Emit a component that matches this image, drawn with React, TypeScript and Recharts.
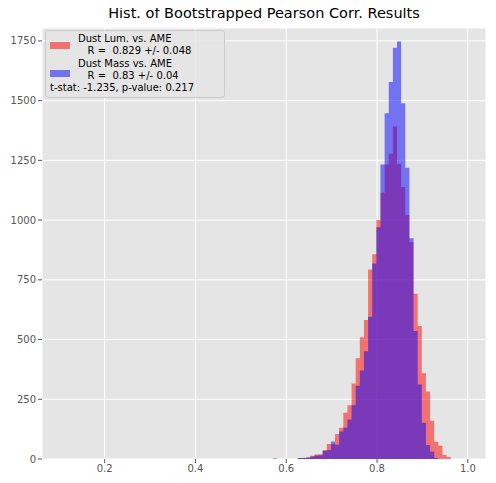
import { ComposedChart, Area, XAxis, YAxis, CartesianGrid } from 'recharts'

const BIN_W = 0.0091
const FIRST_EDGE = 0.6256

// counts per bin, from the first edge
const lumCounts = [4, 4, 8, 14, 19, 20, 38, 63, 63, 105, 131, 194, 225, 316, 422, 510, 582, 793, 857,
  1000, 1114, 1233, 1278, 1392, 1236, 1139, 1021, 907, 692, 557, 359, 283, 160, 72, 55, 17, 8]
const massCounts = [4, 4, 4, 10, 15, 16, 34, 38, 73, 60, 115, 131, 165, 225, 307, 370, 451, 595, 818,
  970, 1233, 1447, 1578, 1721, 1747, 1489, 1219, 924, 536, 312, 152, 59, 30, 4, 0, 0, 0]

const xTicks = [0.2, 0.4, 0.6, 0.8, 1.0]
const yTicks = [0, 250, 500, 750, 1000, 1250, 1500, 1750]

const data = [
  { x: 0.5705, lum: 3, mass: 0 },
  { x: 0.5796, lum: 0, mass: 0 },
  ...lumCounts.map((v, i) => ({ x: FIRST_EDGE + i * BIN_W, lum: v, mass: massCounts[i] })),
  { x: FIRST_EDGE + lumCounts.length * BIN_W, lum: 0, mass: 0 },
]

export default function App() {
  return (
    <div style={{ position: 'relative', width: 496, height: 483, margin: -8, background: '#fff', fontFamily: 'DejaVu Sans' }}>
      <div style={{ position: 'absolute', top: 5, left: 42, width: 444, textAlign: 'center', fontSize: 14.5 }}>
        Hist. of Bootstrapped Pearson Corr. Results
      </div>
      <ComposedChart width={496} height={483} data={data} margin={{ top: 28, right: 10, left: 0, bottom: 0 }}>
        <CartesianGrid fill="#e5e5e5" stroke="#fff" strokeWidth={1} />
        <XAxis dataKey="x" type="number" domain={[0.062, 1.04]} ticks={xTicks} height={24}
          tickFormatter={(v: number) => v.toFixed(1)} tick={{ fontSize: 10, fill: '#555' }}
          axisLine={false} tickLine={{ stroke: '#555' }} tickSize={4} allowDataOverflow />
        <YAxis type="number" domain={[0, 1804]} ticks={yTicks} width={42}
          tick={{ fontSize: 10, fill: '#555' }} axisLine={false} tickLine={{ stroke: '#555' }} tickSize={4} />
        <Area dataKey="lum" type="stepAfter" stroke="none" fill="#ff0000" fillOpacity={0.5} isAnimationActive={false} />
        <Area dataKey="mass" type="stepAfter" stroke="none" fill="#0000ff" fillOpacity={0.5} isAnimationActive={false} />
      </ComposedChart>
      <div style={{ position: 'absolute', left: 45, top: 30, width: 178, height: 66, background: 'rgba(229,229,229,0.8)',
        border: '1px solid #ccc', borderRadius: 3, fontSize: 10, lineHeight: '11.5px', color: '#000' }}>
        <div style={{ position: 'absolute', left: 4, top: 11, width: 20, height: 7, background: '#f27272' }} />
        <div style={{ position: 'absolute', left: 32, top: 2 }}>Dust Lum. vs. AME<br />&nbsp;&nbsp;&nbsp;R =&nbsp; 0.829 +/- 0.048</div>
        <div style={{ position: 'absolute', left: 4, top: 39, width: 20, height: 7, background: '#7272f2' }} />
        <div style={{ position: 'absolute', left: 32, top: 27, whiteSpace: 'nowrap' }}>Dust Mass vs. AME<br />&nbsp;&nbsp;&nbsp;R =&nbsp; 0.83 +/- 0.04<br /></div>
        <div style={{ position: 'absolute', left: 4, top: 51, whiteSpace: 'nowrap' }}>t-stat: -1.235, p-value: 0.217</div>
      </div>
    </div>
  )
}
